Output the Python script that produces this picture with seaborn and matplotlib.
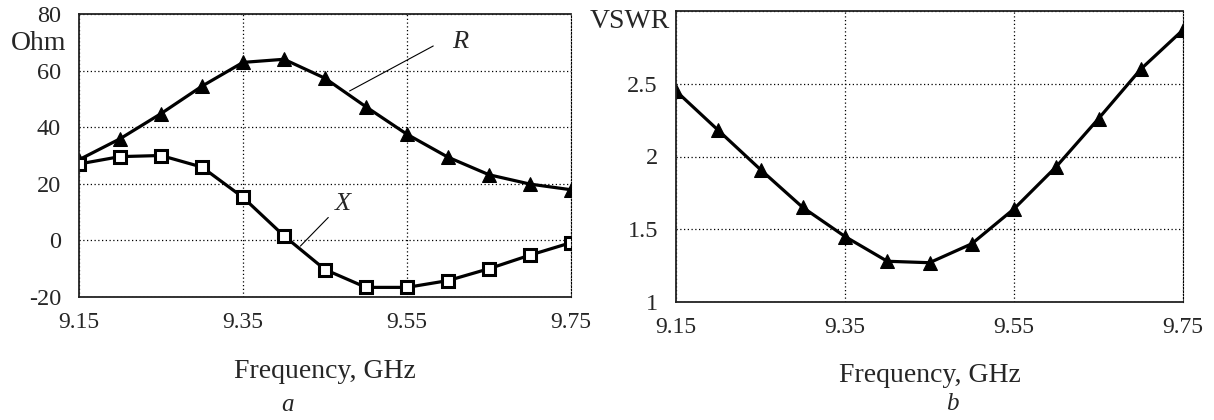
import numpy as np
import pandas as pd
import matplotlib
matplotlib.use("Agg")
import matplotlib.pyplot as plt
import seaborn as sns

sns.set_style("white")
plt.rcParams['font.family'] = ['Liberation Serif', 'DejaVu Serif']
plt.rcParams['axes.unicode_minus'] = False

# frequency points, GHz
freq = [9.15, 9.20, 9.25, 9.30, 9.35, 9.40, 9.45, 9.50, 9.55, 9.60, 9.65, 9.70, 9.75]
# impedance, Ohm
r_vals = [28.5, 35.9, 44.8, 54.5, 62.9, 64.0, 57.3, 47.2, 37.5, 29.4, 23.2, 19.9, 17.9]
x_vals = [27.0, 29.6, 30.0, 25.9, 15.2, 1.6, -10.3, -16.6, -16.6, -14.2, -10.0, -5.2, -0.8]
# VSWR
vswr = [2.45, 2.18, 1.91, 1.65, 1.45, 1.28, 1.27, 1.40, 1.64, 1.93, 2.26, 2.60, 2.87]

xticks = [9.15, 9.35, 9.55, 9.75]
xtick_labels = ["9.15", "9.35", "9.55", "9.75"]
ohm_ticks = [-20, 0, 20, 40, 60, 80]
vswr_ticks = [1, 1.5, 2, 2.5, 3]
vswr_labels = ["1", "1.5", "2", "2.5", ""]

df_z = pd.DataFrame({"freq": freq, "R": r_vals, "X": x_vals})
df_v = pd.DataFrame({"freq": freq, "VSWR": vswr})

fig = plt.figure(figsize=(12.14, 4.2), dpi=100)
ax1 = fig.add_axes([79 / 1214, 1 - 297 / 420, 492 / 1214, 283 / 420])
ax2 = fig.add_axes([676 / 1214, 1 - 302 / 420, 507 / 1214, 291 / 420])


def style_axes(ax):
    ax.grid(True, color="black", linestyle=(0, (1, 2)), linewidth=0.9)
    for side in ["left", "bottom", "top"]:
        ax.spines[side].set_color("#222222")
        ax.spines[side].set_linewidth(1.3)
    ax.spines["right"].set_linestyle((0, (1.5, 1.5)))
    ax.spines["right"].set_color("black")
    ax.tick_params(axis="y", length=0, labelsize=17.5, pad=13)
    ax.tick_params(axis="x", length=0, labelsize=17, pad=11)
    ax.set_xlim(9.15, 9.75)
    ax.set_xticks(xticks)
    ax.set_xticklabels(xtick_labels)
    ax.set_xlabel("Frequency, GHz", fontsize=20)
    ax.xaxis.label.set_va("center")


# (a) R and X
sns.lineplot(data=df_z, x="freq", y="R", ax=ax1, color="black", lw=2.3,
             marker="^", markersize=10, markeredgecolor="black")
sns.lineplot(data=df_z, x="freq", y="X", ax=ax1, color="black", lw=2.3,
             marker="s", markersize=9, markerfacecolor="white",
             markeredgecolor="black", markeredgewidth=2.2)
style_axes(ax1)
ax1.set_ylim(-20, 80)
ax1.set_yticks(ohm_ticks)
ax1.set_ylabel("")
ax1.xaxis.set_label_coords(0.5, (297 - 372) / 283)
ax1.text(66 / 1214, 1 - 43 / 420, "Ohm", transform=fig.transFigure,
         ha="right", va="center", fontsize=20)
ax1.plot([9.582, 9.48], [68.7, 52.8], color="black", lw=0.8)
ax1.text(9.605, 70.1, "R", fontsize=19, style="italic", va="center")
ax1.plot([9.454, 9.42], [8.1, -2], color="black", lw=0.8)
ax1.text(9.462, 12.8, "X", fontsize=19, style="italic", va="center")

# (b) VSWR
sns.lineplot(data=df_v, x="freq", y="VSWR", ax=ax2, color="black", lw=2.3,
             marker="^", markersize=10, markeredgecolor="black")
style_axes(ax2)
ax2.set_ylim(1, 3)
ax2.set_yticks(vswr_ticks)
ax2.set_yticklabels(vswr_labels)
ax2.set_ylabel("")
ax2.xaxis.set_label_coords(0.5, (302 - 375) / 291)
ax2.text(670 / 1214, 1 - 22 / 420, "VSWR", transform=fig.transFigure,
         ha="right", va="center", fontsize=20)

fig.text(288 / 1214, 1 - 405 / 420, "a", ha="center", va="center", fontsize=18, style="italic")
fig.text(952 / 1214, 1 - 404 / 420, "b", ha="center", va="center", fontsize=18, style="italic")

fig.savefig("out.png", dpi=100)
